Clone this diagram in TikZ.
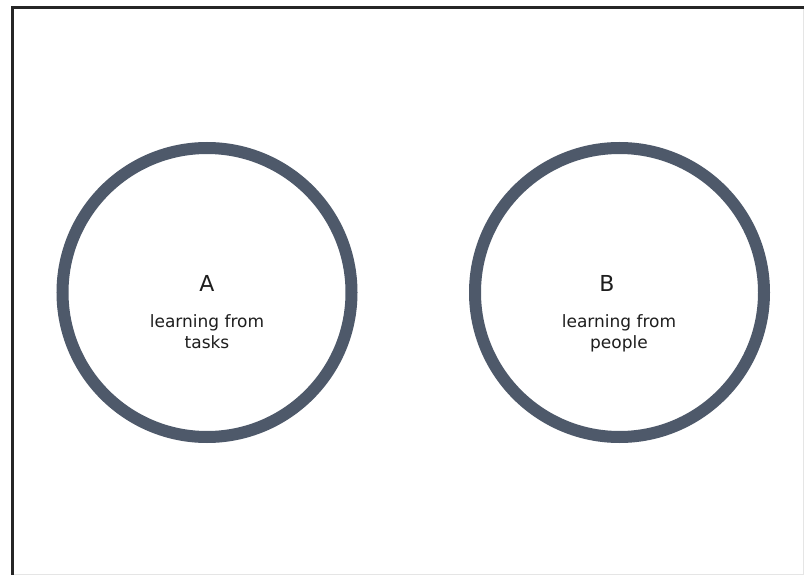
\documentclass[tikz,border=0pt]{standalone}
\usepackage{fontspec}
\setmainfont{DejaVu Sans}
\definecolor{ringcol}{HTML}{4E596A}
\definecolor{txtcol}{HTML}{1E1E1E}
\begin{document}
\begin{tikzpicture}[x=1pt,y=-1pt,
  ring/.style={circle,draw=ringcol,line width=12pt,minimum size=289pt,inner sep=0pt},
  letter/.style={anchor=base,text=txtcol,font=\fontsize{22}{26}\selectfont,inner sep=0pt},
  caption/.style={anchor=base,text=txtcol,align=center,font=\fontsize{17}{21}\selectfont,inner sep=0pt}]
\useasboundingbox (0,0) rectangle (804,575);
\fill[white] (0,0) rectangle (804,575);
\coordinate (tl) at (12,8);
\coordinate (tr) at (806,8);
\coordinate (bl) at (12,577);
\coordinate (bb) at (12,574);
\coordinate (br) at (803,574);
\coordinate (rt) at (803,9.5);
\draw[line width=1pt,black!10] (bb) -- (br) -- (rt);
\draw[line width=3pt,black!85] (bl) -- (tl) -- (tr);
\node[ring] (ca) at (207,292.5) {};
\node[ring] (cb) at (619.5,292.5) {};
\node[letter] (la) at (207,291) {A};
\node[caption] (ta) at (207,348) {learning from\\tasks};
\node[letter] (lb) at (607,291) {B};
\node[caption] (tb) at (619,348) {learning from\\people};
\end{tikzpicture}
\end{document}
